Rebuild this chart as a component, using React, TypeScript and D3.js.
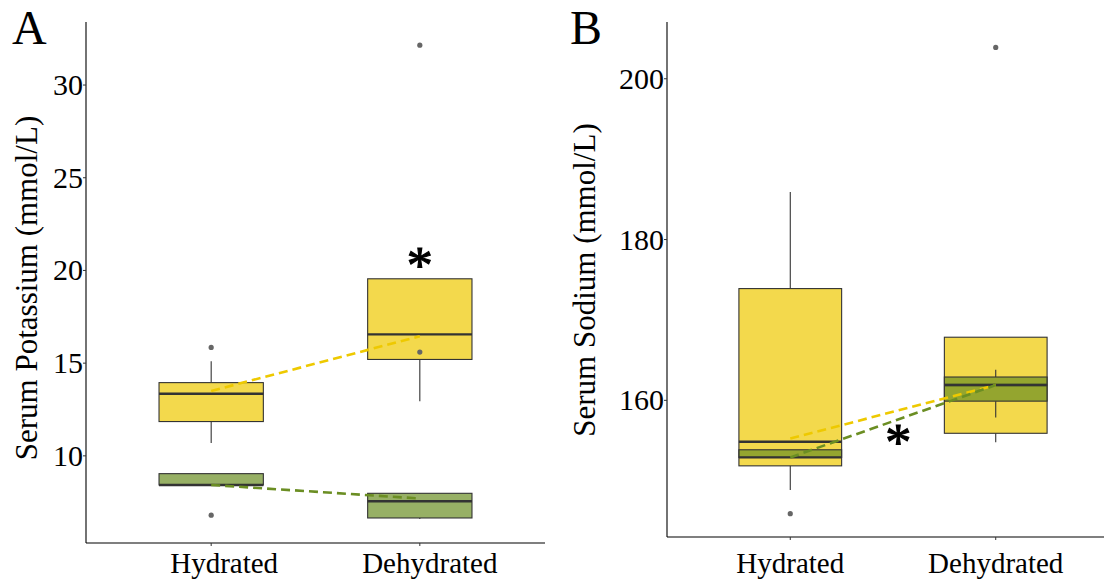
import React from "react";
import * as d3 from "d3";

const categories = ["Hydrated", "Dehydrated"];
const tinyLabels = ["15H", "2DF"];

// Panel A – Serum Potassium
const potassiumTicks = [10, 15, 20, 25, 30];
const potassiumYellow = [
  { lower: 10.7, q1: 11.85, median: 13.35, q3: 13.95, upper: 15.1 },
  { lower: 12.95, q1: 15.2, median: 16.55, q3: 19.55, upper: 19.55 },
];
const potassiumYellowOutliers = [[15.85], [15.6, 32.15]];
const potassiumYellowMeans = [13.5, 16.45];
const potassiumGreen = [
  { lower: 8.43, q1: 8.43, median: 8.43, q3: 9.04, upper: 9.04 },
  { lower: 6.6, q1: 6.65, median: 7.55, q3: 7.98, upper: 8.0 },
];
const potassiumGreenOutliers = [[6.8], []];
const potassiumGreenMeans = [8.43, 7.7];

// Panel B – Serum Sodium
const sodiumTicks = [160, 180, 200];
const sodiumYellow = [
  { lower: 148.85, q1: 151.85, median: 154.85, q3: 173.9, upper: 185.9 },
  { lower: 154.8, q1: 155.9, median: 161.9, q3: 167.85, upper: 167.85 },
];
const sodiumYellowOutliers = [[145.9], [203.9]];
const sodiumYellowMeans = [155.25, 161.9];
const sodiumGreen = [
  { lower: 152.9, q1: 152.9, median: 152.9, q3: 153.85, upper: 153.85 },
  { lower: 157.85, q1: 159.9, median: 161.9, q3: 162.9, upper: 163.8 },
];
const sodiumGreenOutliers = [[], []];
const sodiumGreenMeans = [152.9, 161.9];

const YELLOW = "#EEC900";
const GREEN = "#6B8E23";
const FONT = "'Liberation Serif', 'Times New Roman', serif";

type Stat = { lower: number; q1: number; median: number; q3: number; upper: number };
type Series = { stats: Stat[]; outliers: number[][]; means: number[]; color: string };

function Panel(props: {
  letter: string;
  letterX: number;
  title: string;
  titleX: number;
  titleY: number;
  xLeft: number;
  xRight: number;
  axisRightVisible: number;
  yTop: number;
  yBottom: number;
  domain: [number, number];
  ticks: number[];
  series: Series[];
  star: { cat: number; value: number };
  labelShift: number[];
  showTiny: boolean;
  clipId: string;
}) {
  const x = d3.scaleLinear().domain([0.4, 2.6]).range([props.xLeft, props.xRight]);
  const y = d3.scaleLinear().domain(props.domain).range([props.yBottom, props.yTop]);
  const unit = x(2) - x(1);
  const halfW = unit * 0.25;
  const pos = (i: number) => x(i + 1);

  return (
    <g>
      <text x={props.letterX} y={44} fontFamily={FONT} fontSize={48} fill="#000">
        {props.letter}
      </text>
      {props.series.map((s, si) => (
        <g key={si}>
          {s.stats.map((st, i) => {
            const cx = pos(i);
            return (
              <g key={i}>
                <line x1={cx} x2={cx} y1={y(st.upper)} y2={y(st.q3)} stroke="#333" strokeWidth={1.1} />
                <line x1={cx} x2={cx} y1={y(st.q1)} y2={y(st.lower)} stroke="#333" strokeWidth={1.1} />
                <rect
                  x={cx - halfW}
                  y={y(st.q3)}
                  width={halfW * 2}
                  height={Math.max(0, y(st.q1) - y(st.q3))}
                  fill={s.color}
                  fillOpacity={0.7}
                  stroke="#333"
                  strokeWidth={1.1}
                />
                <line
                  x1={cx - halfW}
                  x2={cx + halfW}
                  y1={y(st.median)}
                  y2={y(st.median)}
                  stroke="#333"
                  strokeWidth={2.4}
                />
                {s.outliers[i].map((o, k) => (
                  <circle key={k} cx={cx} cy={y(o)} r={2.6} fill="#666" />
                ))}
              </g>
            );
          })}
        </g>
      ))}
      {props.series.map((s, si) => (
        <line
          key={"m" + si}
          x1={pos(0)}
          x2={pos(1)}
          y1={y(s.means[0])}
          y2={y(s.means[1])}
          stroke={s.color}
          strokeWidth={2.6}
          strokeDasharray="9,5"
        />
      ))}
      <text
        x={pos(props.star.cat)}
        y={y(props.star.value) + 24}
        textAnchor="middle"
        fontFamily={FONT}
        fontSize={52}
        fill="#000"
        stroke="#000"
        strokeWidth={1.2}
      >
        *
      </text>
      <line x1={props.xLeft} x2={props.xLeft} y1={props.yTop} y2={props.yBottom} stroke="#000" strokeWidth={1.1} />
      <line
        x1={props.xLeft}
        x2={props.axisRightVisible}
        y1={props.yBottom}
        y2={props.yBottom}
        stroke="#000"
        strokeWidth={1.1}
      />
      {props.ticks.map((t) => (
        <g key={t}>
          <line x1={props.xLeft - 3} x2={props.xLeft} y1={y(t)} y2={y(t)} stroke="#333" strokeWidth={1} />
          <text
            x={props.xLeft - 3}
            y={y(t) + 10}
            textAnchor="end"
            fontFamily={FONT}
            fontSize={30}
            fill="#000"
          >
            {t}
          </text>
        </g>
      ))}
      {categories.map((c, i) => (
        <g key={c}>
          <line x1={pos(i)} x2={pos(i)} y1={props.yBottom} y2={props.yBottom + 3} stroke="#333" strokeWidth={1} />
          {props.showTiny && (
            <text
              x={pos(i)}
              y={props.yBottom + 12}
              textAnchor="middle"
              fontFamily={FONT}
              fontSize={8}
              fill="#555"
              clipPath={`url(#${props.clipId})`}
            >
              {tinyLabels[i]}
            </text>
          )}
          <text
            x={pos(i) + props.labelShift[i]}
            y={573}
            textAnchor="middle"
            fontFamily={FONT}
            fontSize={29}
            fill="#000"
          >
            {c}
          </text>
        </g>
      ))}
      <text
        transform={`translate(${props.titleX},${props.titleY}) rotate(-90)`}
        textAnchor="middle"
        fontFamily={FONT}
        fontSize={31}
        fill="#000"
      >
        {props.title}
      </text>
    </g>
  );
}

export default function App() {
  return (
    <svg width={1107} height={583} style={{ position: "absolute", left: 0, top: 0, background: "#fff" }}>
      <defs>
        <clipPath id="tinyClip">
          <rect x={0} y={540} width={1107} height={9} />
        </clipPath>
      </defs>
      <rect x={0} y={0} width={1107} height={583} fill="#fff" />
      <Panel
        letter="A"
        letterX={12}
        title="Serum Potassium (mmol/L)"
        titleX={37}
        titleY={288}
        xLeft={86}
        xRight={545}
        axisRightVisible={545}
        yTop={22}
        yBottom={543}
        domain={[5.3, 33.4]}
        ticks={potassiumTicks}
        series={[
          { stats: potassiumYellow, outliers: potassiumYellowOutliers, means: potassiumYellowMeans, color: YELLOW },
          { stats: potassiumGreen, outliers: potassiumGreenOutliers, means: potassiumGreenMeans, color: GREEN },
        ]}
        star={{ cat: 1, value: 20.6 }}
        labelShift={[13, 10]}
        showTiny={true}
        clipId="tinyClip"
      />
      <Panel
        letter="B"
        letterX={570}
        title="Serum Sodium (mmol/L)"
        titleX={595}
        titleY={280}
        xLeft={667}
        xRight={1119}
        axisRightVisible={1104}
        yTop={22}
        yBottom={537}
        domain={[143.0, 207.06]}
        ticks={sodiumTicks}
        series={[
          { stats: sodiumYellow, outliers: sodiumYellowOutliers, means: sodiumYellowMeans, color: YELLOW },
          { stats: sodiumGreen, outliers: sodiumGreenOutliers, means: sodiumGreenMeans, color: GREEN },
        ]}
        star={{ cat: 0.525, value: 155.6 }}
        labelShift={[0, 0]}
        showTiny={false}
        clipId="tinyClip"
      />
    </svg>
  );
}
